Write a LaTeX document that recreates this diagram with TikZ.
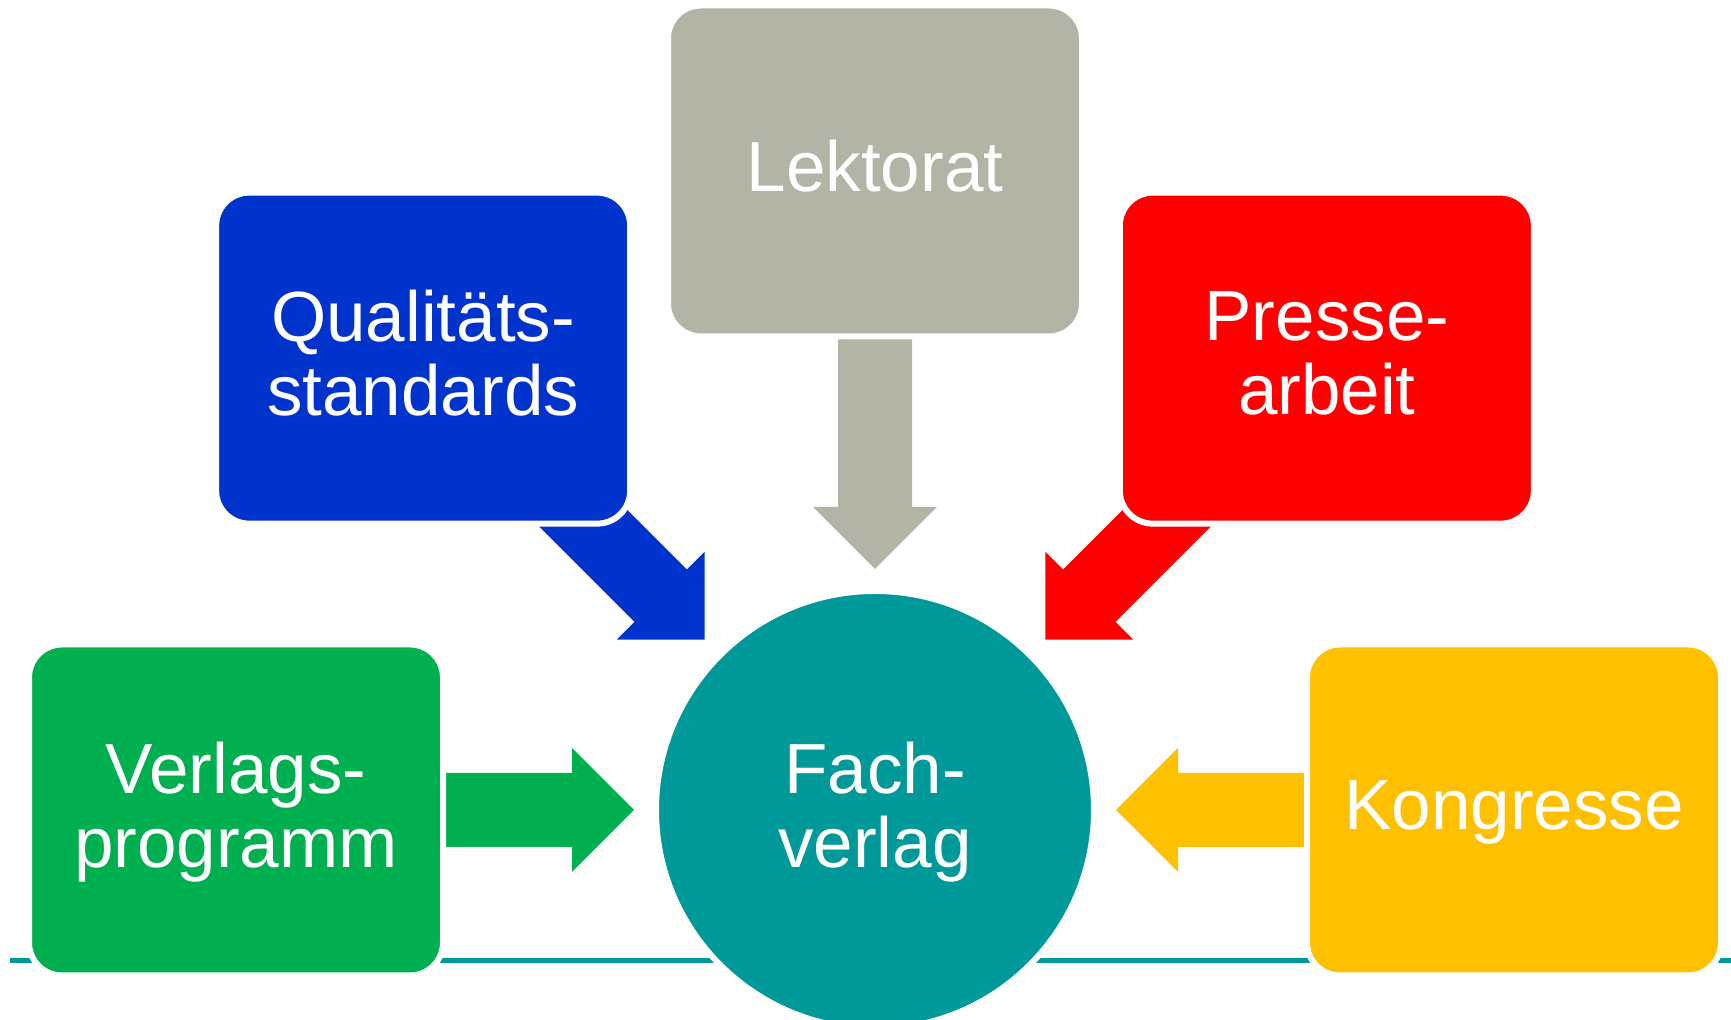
\documentclass[tikz,border=0pt]{standalone}
\usepackage{fontspec}
\setmainfont{Liberation Sans}
\usetikzlibrary{calc,backgrounds}
\definecolor{lektgray}{HTML}{B4B4A6}
\definecolor{qualblue}{HTML}{0033CC}
\definecolor{presred}{HTML}{FF0000}
\definecolor{verlgreen}{HTML}{00B050}
\definecolor{konggold}{HTML}{FFC000}
\definecolor{fachteal}{HTML}{009999}
\tikzset{
  boxtext/.style={text=white, align=center, text depth=0.10cm, font=\fontsize{20.2pt}{21pt}\selectfont},
  box/.style={boxtext, rectangle, rounded corners=0.33cm, draw=white, line width=0.06cm,
    minimum width=4.14cm, minimum height=3.31cm},
  hub/.style={boxtext, circle, draw=white, line width=0.06cm, fill=fachteal, minimum size=4.38cm},
  pics/feed/.style={code={
    \fill[#1] (0,0) -- (-0.62,0.62) -- (-0.62,0.37) -- (-2.30,0.37)
      -- (-2.30,-0.37) -- (-0.62,-0.37) -- (-0.62,-0.62) -- cycle;}}
}
\begin{document}
\begin{tikzpicture}
\useasboundingbox (0,0) rectangle (17.31,10.20);
\node[hub] (fach) at (8.75,2.10) {Fach-\\verlag};
\begin{scope}[on background layer]
\draw[fachteal, line width=0.05cm] (0.10,0.595) -- (17.31,0.595); % base line
\end{scope}
\foreach \name/\ang/\col/\txt in {lekt/90/lektgray/Lektorat,
    qual/135/qualblue/{Qualitäts-\\standards},
    pres/45/presred/{Presse-\\arbeit},
    verl/180/verlgreen/{Verlags-\\programm},
    kong/0/konggold/Kongresse} % edit here for the boxes
{
\node[box, fill=\col] (\name) at ($(fach.center)+(\ang:6.39)$) {\txt};
\begin{scope}[on background layer]
\pic[rotate=\ang+180] at ($(fach.center)!2.41cm!(\name.center)$) {feed=\col};
\end{scope}
}
\end{tikzpicture}
\end{document}
